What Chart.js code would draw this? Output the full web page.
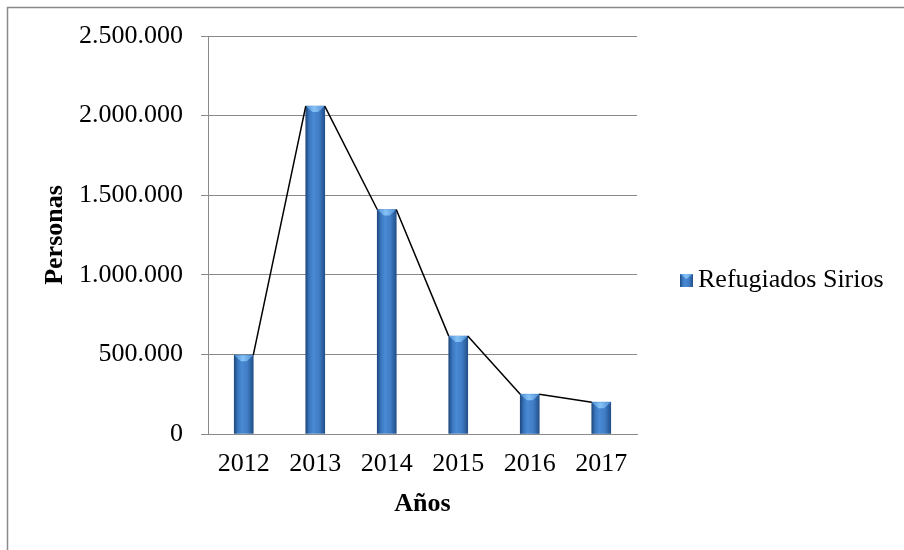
<!DOCTYPE html>
<html lang="es">
  <head>
    <meta charset="UTF-8" />
    <title>Refugiados Sirios</title>
    <script src="https://cdn.jsdelivr.net/npm/chart.js"></script>
    <style>
      body { margin: 0; background: #fff; }
    </style>
  </head>
  <body>
    <canvas id="refugeesChart" width="904" height="550"></canvas>

    <script>
      const years = ['2012', '2013', '2014', '2015', '2016', '2017'];
      const refugees = [495000, 2060000, 1410000, 615000, 250000, 200000];
      const seriesName = 'Refugiados Sirios';
      const yTicks = [0, 500000, 1000000, 1500000, 2000000, 2500000];

      const serif = "'Liberation Serif', 'Times New Roman', serif";
      const barWidth = 19;

      function dots(v) {
        return String(v).replace(/\B(?=(\d{3})+(?!\d))/g, '.');
      }

      function sideGradient(c, left, right, stops) {
        const g = c.createLinearGradient(left, 0, right, 0);
        stops.forEach(([p, col]) => g.addColorStop(p, col));
        return g;
      }
      const bodyStops = [[0, '#1f4a80'], [0.2, '#3a78c0'], [0.4, '#4a8ad4'], [0.7, '#3f7cc4'], [1, '#22508a']];
      const bevelStops = [[0, '#4f90d6'], [0.45, '#86c2f6'], [1, '#4f90d6']];

      // gradient across each bar, placed with the x scale
      function barFill(context) {
        const xs = context.chart.scales.x;
        if (!xs || context.dataIndex === undefined) return '#3b78c0';
        const x = xs.getPixelForValue(context.dataIndex);
        if (!isFinite(x)) return '#3b78c0';
        return sideGradient(context.chart.ctx, x - barWidth / 2, x + barWidth / 2, bodyStops);
      }

      // outer frame (only left and top edges fall inside the picture)
      const frame = {
        id: 'frame',
        afterDraw(chart) {
          const c = chart.ctx;
          c.save();
          c.strokeStyle = '#8a8a8a';
          c.lineWidth = 1.5;
          c.beginPath();
          c.moveTo(7.5, chart.height + 5);
          c.lineTo(7.5, 7.5);
          c.lineTo(chart.width + 5, 7.5);
          c.stroke();
          c.restore();
        }
      };

      // bevel on the bar tops + series lines between bars
      const barExtras = {
        id: 'barExtras',
        afterDatasetsDraw(chart) {
          const c = chart.ctx;
          const bars = chart.getDatasetMeta(0).data;
          c.save();
          bars.forEach((b) => {
            const half = b.width / 2;
            c.fillStyle = sideGradient(c, b.x - half, b.x + half, bevelStops);
            c.beginPath();
            c.moveTo(b.x - half, b.y);
            c.lineTo(b.x + half, b.y);
            c.lineTo(b.x + half * 0.3, b.y + 6);
            c.lineTo(b.x - half * 0.3, b.y + 6);
            c.closePath();
            c.fill();
          });
          c.strokeStyle = '#000';
          c.lineWidth = 1.5;
          c.beginPath();
          for (let i = 0; i < bars.length - 1; i++) {
            const a = bars[i], b = bars[i + 1];
            c.moveTo(a.x + a.width / 2, a.y);
            c.lineTo(b.x - b.width / 2, b.y);
          }
          c.stroke();
          c.restore();
        }
      };

      // legend on the right, drawn next to the plot
      const sideLegend = {
        id: 'sideLegend',
        afterDraw(chart) {
          const c = chart.ctx;
          const x = chart.chartArea.right + 43;
          const base = chart.height / 2 + 12;
          c.save();
          c.fillStyle = sideGradient(c, x, x + 13, bodyStops);
          c.fillRect(x, base - 13, 13, 13);
          c.fillStyle = sideGradient(c, x, x + 13, bevelStops);
          c.beginPath();
          c.moveTo(x, base - 13);
          c.lineTo(x + 13, base - 13);
          c.lineTo(x + 6.5, base - 8);
          c.closePath();
          c.fill();
          c.font = '26px ' + serif;
          c.fillStyle = '#000';
          c.textBaseline = 'alphabetic';
          c.fillText(seriesName, x + 18, base);
          c.restore();
        }
      };

      const ctx = document.getElementById('refugeesChart').getContext('2d');
      const refugeesChart = new Chart(ctx, {
        type: 'bar',
        data: {
          labels: years,
          datasets: [
            {
              label: seriesName,
              data: refugees,
              backgroundColor: barFill,
              borderWidth: 0,
              barThickness: barWidth,
            },
          ],
        },
        options: {
          responsive: false,
          animation: false,
          devicePixelRatio: 1,
          layout: { padding: { top: 36, right: 267, bottom: 0, left: 0 } },
          plugins: {
            tooltip: { enabled: false },
            legend: { display: false },
          },
          scales: {
            x: {
              grid: { display: false, drawTicks: false },
              border: { display: true, color: '#8a8a8a' },
              ticks: { font: { family: serif, size: 26 }, color: '#000', padding: 15 },
              title: {
                display: true,
                text: 'Años',
                font: { family: serif, size: 26, weight: 'bold' },
                color: '#000',
                padding: { top: 0, bottom: 30 },
              },
              afterFit: (s) => { s.height = 116; },
            },
            y: {
              min: 0,
              max: 2500000,
              afterBuildTicks: (s) => { s.ticks = yTicks.map((v) => ({ value: v })); },
              grid: { color: '#8a8a8a', lineWidth: 1, tickLength: 7 },
              border: { color: '#8a8a8a' },
              ticks: {
                font: { family: serif, size: 26 },
                color: '#000',
                padding: 18,
                callback: (v) => dots(v),
              },
              title: {
                display: true,
                text: 'Personas',
                font: { family: serif, size: 26, weight: 'bold' },
                color: '#000',
                padding: { top: 40, bottom: 0 },
              },
              afterFit: (s) => { s.width = 208; },
            },
          },
        },
        plugins: [frame, barExtras, sideLegend],
      });
    </script>
  </body>
</html>
